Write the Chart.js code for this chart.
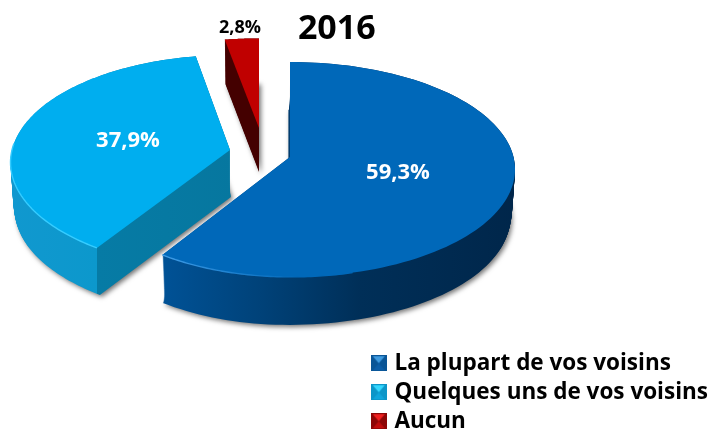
<!DOCTYPE html>
<html>
<head>
<meta charset="utf-8">
<script src="https://cdn.jsdelivr.net/npm/chart.js@4"></script>
<style>html,body{margin:0;padding:0;background:#fff}canvas{display:block}</style>
</head>
<body>
<canvas id="c" width="713" height="435"></canvas>
<script>
const categories = ["La plupart de vos voisins", "Quelques uns de vos voisins", "Aucun"];
const values = [59.3, 37.9, 2.8];
const valueLabels = ["59,3%", "37,9%", "2,8%"];
const chartTitle = "2016";

const FONT = '"Open Sans", sans-serif';
const topColors = ["#0068b9", "#00aeef", "#c00000"];

// Perspective placement of each exploded slice (style only, no data)
const looks = [
  {ax:290, ay:157, rxL:209, rxR:223.5, ry:106, p:.116, depth:48, lean:-1.5, rim:"#3d9be6", rimFade:[165,300],
   wall:[[150,"#00549a"],[260,"#004279"],[360,"#002f58"],[520,"#00264a"]],
   text:[398,173], size:22, color:"#fff"},
  {ax:230, ay:150, rxL:218, rxR:218, ry:106, p:.116, depth:47, lean:1, rim:"#35ccff", rimFade:null,
   wall:[[8,"#1198cf"],[96.5,"#0c98cc"],[97.5,"#067ba5"],[235,"#06779f"]],
   text:[128,141], size:22, color:"#fff"},
  {ax:259, ay:128, rxL:218, rxR:218, ry:100, p:.116, depth:44, lean:0, rim:null, rimFade:null,
   wall:[[200,"#440000"],[265,"#440000"]],
   text:[240,28], size:18, color:"#000"}
];
const drawOrder = [1, 0, 2];
const titleNudge = 8;

function leanAt(l, t) { return l.lean * Math.pow(t, 12); }
function project(l, a, t) {
  const u = Math.cos(a), v = Math.sin(a), w = 1 - l.p * v;
  const rx = (u < 0 ? l.rxL : l.rxR) * (1 - .015 * t);
  return [l.ax + leanAt(l, t) + rx * u / w, l.ay + l.depth * t + l.ry * v / w];
}
function trace(ctx, l, el, t) {
  const n = 120, s = el.startAngle, e = el.endAngle;
  ctx.beginPath();
  ctx.moveTo(l.ax + leanAt(l, t), l.ay + l.depth * t);
  for (let i = 0; i <= n; i++) {
    const p = project(l, s + (e - s) * i / n, t);
    ctx.lineTo(p[0], p[1]);
  }
  ctx.closePath();
}

const pie3d = {
  id: "pie3d",
  afterLayout(chart) { chart.titleBlock.right += titleNudge; },
  beforeDatasetDraw() { return false; },
  afterDatasetsDraw(chart) {
    const ctx = chart.ctx, els = chart.getDatasetMeta(0).data;
    drawOrder.forEach(i => {
      const l = looks[i], el = els[i].getProps(["startAngle", "endAngle"], true);
      const g = ctx.createLinearGradient(l.wall[0][0], 0, l.wall[l.wall.length - 1][0], 0);
      const x0 = l.wall[0][0], x1 = l.wall[l.wall.length - 1][0];
      l.wall.forEach(s => g.addColorStop((s[0] - x0) / (x1 - x0), s[1]));
      ctx.save();
      ctx.fillStyle = g;
      ctx.shadowColor = "rgba(0,0,0,.55)"; ctx.shadowBlur = 5;
      ctx.shadowOffsetX = 2; ctx.shadowOffsetY = 2;
      trace(ctx, l, el, 1); ctx.fill();
      ctx.shadowColor = "transparent";
      for (let d = l.depth - 1; d >= 0; d--) { trace(ctx, l, el, d / l.depth); ctx.fill(); }
      ctx.fillStyle = topColors[i];
      trace(ctx, l, el, 0); ctx.fill();
      if (l.rim) {
        const from = Math.max(el.startAngle, Math.PI * .42), to = Math.min(el.endAngle, Math.PI * 1.02);
        let stroke = l.rim;
        if (l.rimFade) {
          stroke = ctx.createLinearGradient(l.rimFade[0], 0, l.rimFade[1], 0);
          stroke.addColorStop(0, l.rim);
          stroke.addColorStop(1, topColors[i]);
        }
        ctx.strokeStyle = stroke; ctx.lineWidth = 1.4;
        ctx.beginPath();
        for (let k = 0; k <= 60; k++) {
          const p = project(l, from + (to - from) * k / 60, 0);
          if (k) ctx.lineTo(p[0], p[1]); else ctx.moveTo(p[0], p[1]);
        }
        ctx.stroke();
      }
      ctx.restore();
    });
    ctx.save();
    ctx.textAlign = "center"; ctx.textBaseline = "middle";
    valueLabels.forEach((s, i) => {
      const l = looks[i];
      ctx.font = "bold " + l.size + "px " + FONT;
      ctx.fillStyle = l.color;
      ctx.fillText(s, l.text[0], l.text[1]);
    });
    ctx.restore();
  }
};

function bevelIcon(light, mid, dark) {
  const c = document.createElement("canvas"), s = 16;
  c.width = s; c.height = s;
  const x = c.getContext("2d");
  const tri = (col, pts) => { x.fillStyle = col; x.beginPath(); pts.forEach((p, i) => i ? x.lineTo(p[0], p[1]) : x.moveTo(p[0], p[1])); x.closePath(); x.fill(); };
  x.fillStyle = dark; x.fillRect(0, 0, s, s);
  tri(light, [[2, 1], [14, 1], [8, 8]]);
  tri(mid, [[2, 15], [14, 15], [8, 8]]);
  return c;
}
const icons = [
  bevelIcon("#3f9be0", "#0d5ea8", "#0a5596"),
  bevelIcon("#35d8ff", "#10a6dc", "#0c96c8"),
  bevelIcon("#f02020", "#c00c0c", "#8c0606")
];

new Chart(document.getElementById("c"), {
  type: "pie",
  data: { labels: categories, datasets: [{ data: values, backgroundColor: topColors, borderWidth: 0 }] },
  plugins: [pie3d],
  options: {
    responsive: false, animation: false,
    layout: { padding: { right: -5, bottom: -4 } },
    plugins: {
      tooltip: { enabled: false },
      title: { display: true, text: chartTitle, align: "end", fullSize: false, color: "#000",
               font: { family: FONT, size: 34, weight: "bold" }, padding: { top: 9, bottom: 0 } },
      legend: {
        position: "right", align: "end",
        labels: {
          color: "#000", font: { family: FONT, size: 22.5, weight: "bold" },
          usePointStyle: true, pointStyleWidth: 9, padding: 6.5,
          generateLabels: () => categories.map((t, i) => ({ text: t, pointStyle: icons[i], fillStyle: topColors[i], lineWidth: 0, strokeStyle: "transparent", index: i, hidden: false }))
        }
      }
    }
  }
});
</script>
</body>
</html>
